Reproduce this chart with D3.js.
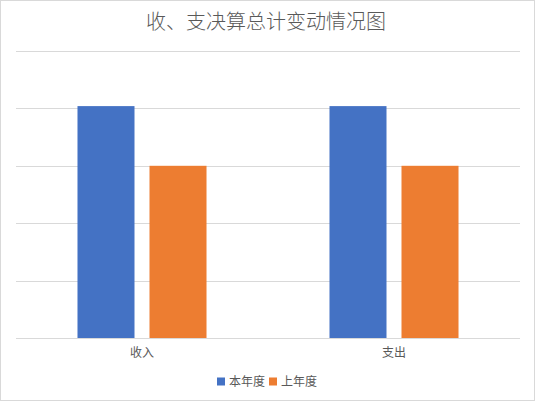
<!DOCTYPE html>
<html><head><meta charset="utf-8">
<script src="https://cdn.jsdelivr.net/npm/d3@7/dist/d3.min.js"></script>
<style>html,body{margin:0;padding:0;background:#fff;}svg{display:block;}</style>
</head><body>
<script>
const title = "收、支决算总计变动情况图";
const categories = ["收入", "支出"];
const seriesNames = ["本年度", "上年度"];
const thisYearVals = [4.04, 4.04];
const lastYearVals = [3.0, 3.0];
const yTicks = [0, 1, 2, 3, 4, 5];
const colors = ["#4472C4", "#ED7D31"];

const W = 535, H = 401;
const font = "'Noto Sans CJK SC', 'Noto Sans', sans-serif";
const svg = d3.select("body").append("svg").attr("width", W).attr("height", H);
svg.append("rect").attr("x", 0.5).attr("y", 0.5).attr("width", W - 1).attr("height", H - 1)
  .attr("fill", "#fff").attr("stroke", "#d9d9d9");

const plot = {left: 16, right: 520, top: 51, bottom: 338};
const x0 = d3.scaleBand().domain(categories).range([plot.left, plot.right]).padding(0);
const bw = x0.bandwidth();
const x1 = d3.scaleBand().domain(seriesNames).range([bw * 0.244, bw * 0.756]).paddingInner(0.2083).paddingOuter(0);
const y = d3.scaleLinear().domain([0, 5]).range([plot.bottom, plot.top]);

svg.append("g").selectAll("line").data(yTicks).join("line")
  .attr("x1", plot.left).attr("x2", plot.right)
  .attr("y1", d => Math.round(y(d)) + 0.5).attr("y2", d => Math.round(y(d)) + 0.5)
  .attr("stroke", "#d9d9d9").attr("stroke-width", 1);

const data = categories.map((c, i) => ({cat: c, vals: [thisYearVals[i], lastYearVals[i]]}));
const g = svg.append("g").selectAll("g").data(data).join("g")
  .attr("transform", d => `translate(${x0(d.cat)},0)`);
g.selectAll("rect").data(d => d.vals.map((v, j) => ({s: seriesNames[j], v, j})))
  .join("rect")
  .attr("x", d => x1(d.s)).attr("width", x1.bandwidth())
  .attr("y", d => y(d.v)).attr("height", d => y(0) - y(d.v))
  .attr("fill", d => colors[d.j]);

svg.append("g").selectAll("text").data(categories).join("text")
  .attr("x", d => x0(d) + bw / 2).attr("y", 357)
  .attr("text-anchor", "middle").attr("font-family", font).attr("font-size", 12)
  .attr("fill", "#595959").text(d => d);

svg.append("text").attr("x", 266).attr("y", 29).attr("text-anchor", "middle")
  .attr("font-family", font).attr("font-size", 20).attr("font-weight", 300).attr("fill", "#595959").text(title);

const lg = svg.append("g");
const legendX = [217, 269];
seriesNames.forEach((s, i) => {
  lg.append("rect").attr("x", legendX[i]).attr("y", 377.5).attr("width", 8).attr("height", 8).attr("fill", colors[i]);
  lg.append("text").attr("x", legendX[i] + 12).attr("y", 386).attr("font-family", font).attr("font-size", 12)
    .attr("fill", "#595959").text(s);
});
</script>
</body></html>
